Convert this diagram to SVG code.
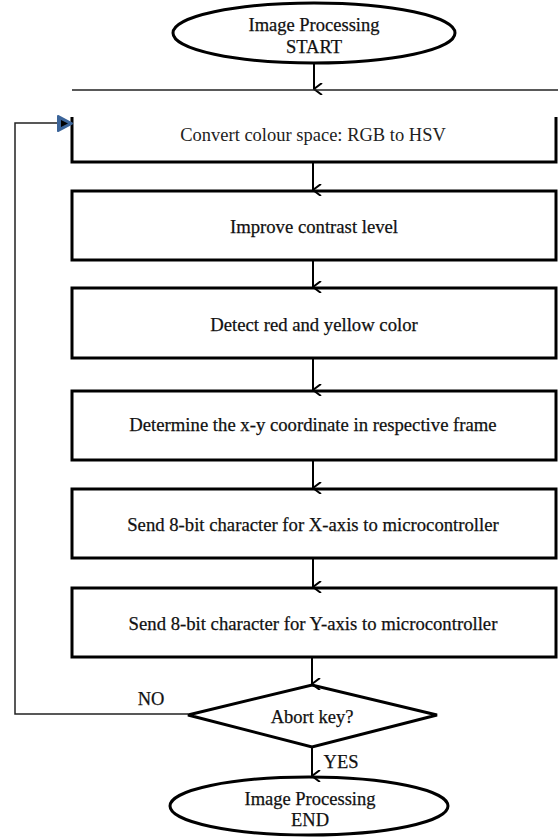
<svg xmlns="http://www.w3.org/2000/svg" width="558" height="837" viewBox="0 0 558 837">
<defs>
<style>
.shape{fill:#fff;stroke:#000;stroke-width:3}
.open{fill:none;stroke:#000;stroke-width:3}
text{font-family:'Liberation Serif','Times New Roman','DejaVu Serif',serif;fill:#111;text-anchor:middle}
.t{font-size:18.7px;stroke:#111;stroke-width:0.25}
.c{font-size:18.5px;fill:#222}
.e{font-size:18.5px;stroke:#111;stroke-width:0.25}
.line{fill:none;stroke:#000;stroke-width:2}
.thin{fill:none;stroke:#222;stroke-width:1.5}
</style>
<marker id="arr" viewBox="0 0 12 10" refX="6" refY="9" markerWidth="12" markerHeight="10" markerUnits="userSpaceOnUse" orient="auto">
<path d="M0,1 L6,9 L12,1" fill="none" stroke="#000" stroke-width="2"/>
</marker>
</defs>
<rect width="558" height="837" fill="#fff"/>

<g id="start">
<ellipse class="shape" cx="314" cy="33" rx="141" ry="30"/>
<text class="e" x="314" y="31">Image Processing</text>
<text class="e" x="314" y="53">START</text>
</g>

<g id="convert">
<path class="open" d="M72,117 V162 H556 V117"/>
<text class="c" x="313" y="141">Convert colour space: RGB to HSV</text>
</g>

<g id="contrast">
<rect class="shape" x="72" y="191" width="484" height="69"/>
<text class="t" x="314" y="233">Improve contrast level</text>
</g>

<g id="detect">
<rect class="shape" x="72" y="288" width="484" height="70"/>
<text class="t" x="314" y="331">Detect red and yellow color</text>
</g>

<g id="coord">
<rect class="shape" x="72" y="391" width="484" height="69"/>
<text class="t" x="313" y="431">Determine the x-y coordinate in respective frame</text>
</g>

<g id="sendx">
<rect class="shape" x="72" y="489" width="484" height="69"/>
<text class="t" x="313" y="531">Send 8-bit character for X-axis to microcontroller</text>
</g>

<g id="sendy">
<rect class="shape" x="72" y="588" width="484" height="69"/>
<text class="t" x="313" y="630">Send 8-bit character for Y-axis to microcontroller</text>
</g>

<g id="abort">
<polygon class="shape" points="188,715 312,685 437,715 312,747"/>
<text class="e" x="312" y="723">Abort key?</text>
</g>

<g id="end">
<ellipse class="shape" cx="309" cy="806" rx="139" ry="29"/>
<text class="e" x="310" y="805">Image Processing</text>
<text class="e" x="310" y="826">END</text>
</g>

<g id="connectors">
<line class="line" x1="314" y1="63" x2="314" y2="89" marker-end="url(#arr)"/>
<line class="thin" x1="72" y1="90" x2="558" y2="90"/>
<line class="line" x1="313" y1="163" x2="313" y2="190" marker-end="url(#arr)"/>
<line class="line" x1="313" y1="261" x2="313" y2="287" marker-end="url(#arr)"/>
<line class="line" x1="313" y1="359" x2="313" y2="390" marker-end="url(#arr)"/>
<line class="line" x1="313" y1="461" x2="313" y2="488" marker-end="url(#arr)"/>
<line class="line" x1="313" y1="559" x2="313" y2="587" marker-end="url(#arr)"/>
<line class="line" x1="312" y1="658" x2="312" y2="684" marker-end="url(#arr)"/>
<line class="line" x1="312" y1="748" x2="312" y2="776" marker-end="url(#arr)"/>
<polyline class="thin" points="188,714 15,714 15,123 60,123"/>
<polygon points="58,116 72,123.5 58,131" fill="#3b6499" stroke="#3b6499" stroke-width="2" stroke-linejoin="round"/>
<polygon points="61,120 68,123.5 61,127" fill="#000"/>
<text class="e" x="151" y="705">NO</text>
<text class="e" x="341" y="768">YES</text>
</g>
</svg>
